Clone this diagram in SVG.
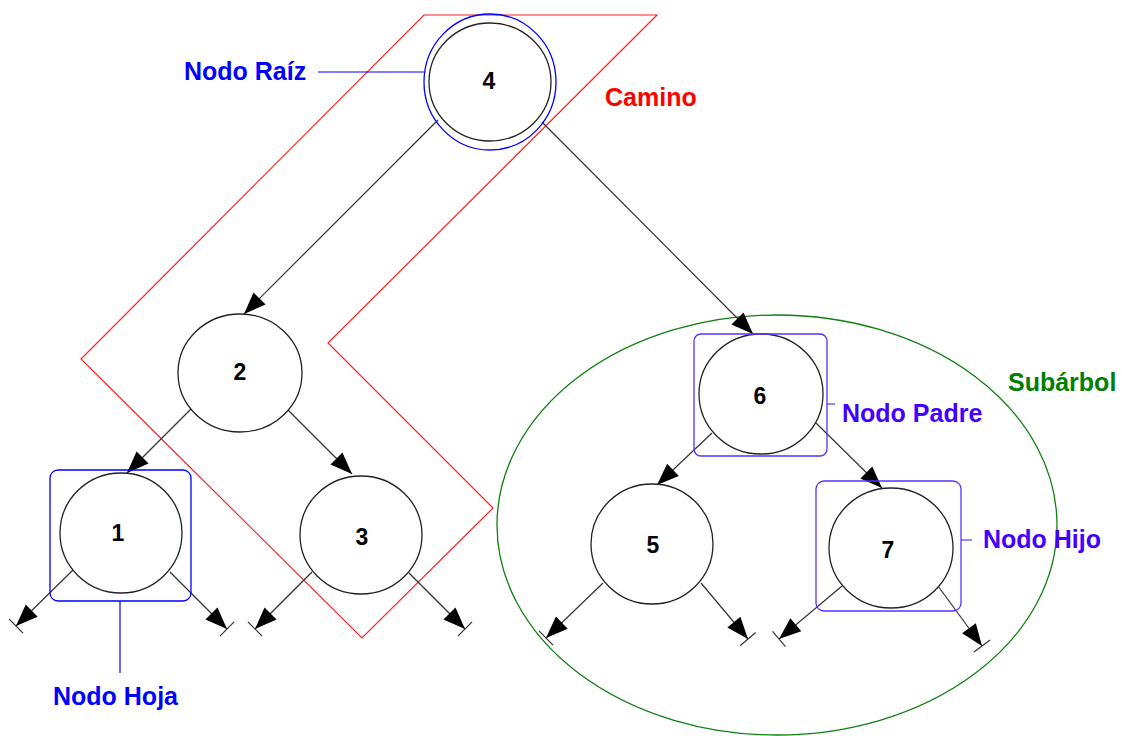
<svg xmlns="http://www.w3.org/2000/svg" width="1122" height="736" viewBox="0 0 1122 736">
<style>
.node{fill:#fff;stroke:#222;stroke-width:1.3}
.num{font-family:"Liberation Sans",Arial,sans-serif;font-weight:bold;font-size:23px;text-anchor:middle;fill:#000}
.lbl{font-family:"Liberation Sans",Arial,sans-serif;font-weight:bold;font-size:25px}
.edge{stroke:#333;stroke-width:1.2;fill:none;marker-end:url(#arr)}
.nil{stroke:#333;stroke-width:1.2;fill:none;marker-end:url(#nilarr)}
.blue{fill:#0000ff}
.violet{fill:#4400ff}
</style>
<defs>
<marker id="arr" markerUnits="userSpaceOnUse" markerWidth="30" markerHeight="30" viewBox="-25 -12 30 24" refX="0" refY="0" orient="auto">
<path d="M0,0 L-22,-8.5 L-22,8.5 Z" fill="#000"/>
</marker>
<marker id="nilarr" markerUnits="userSpaceOnUse" markerWidth="30" markerHeight="30" viewBox="-25 -12 30 24" refX="0" refY="0" orient="auto">
<path d="M0,0 L-22,-8.5 L-22,8.5 Z" fill="#000"/>
<path d="M0,-10 L0,10" stroke="#333" stroke-width="1.2"/>
</marker>
</defs>
<rect width="1122" height="736" fill="#fff"/>

<g id="subarbol">
<ellipse cx="777" cy="525" rx="280" ry="210" fill="none" stroke="#108010" stroke-width="1.3"/>
<text class="lbl" x="1008" y="391" fill="#008000">Subárbol</text>
</g>

<g id="camino">
<path d="M424,15 L657,15 L328,343 L493,508 L362,638 L81,359 Z" fill="none" stroke="#ff2020" stroke-width="1.2"/>
<text class="lbl" x="605" y="106" fill="#ff0000">Camino</text>
</g>

<g id="connectors">
<line class="edge" x1="438" y1="120" x2="244" y2="314"/>
<line class="edge" x1="542" y1="122" x2="753" y2="334"/>
<line class="edge" x1="191" y1="409" x2="127" y2="473"/>
<line class="edge" x1="288" y1="410" x2="352" y2="474"/>
<line class="edge" x1="712" y1="433" x2="657" y2="485"/>
<line class="edge" x1="816" y1="423" x2="882" y2="488"/>
<line class="nil" x1="73" y1="570" x2="16" y2="626"/>
<line class="nil" x1="170" y1="572" x2="227" y2="629"/>
<line class="nil" x1="312" y1="572" x2="255" y2="629"/>
<line class="nil" x1="409" y1="573" x2="465" y2="629"/>
<line class="nil" x1="603" y1="583" x2="546" y2="638"/>
<line class="nil" x1="701" y1="583" x2="748" y2="639"/>
<line class="nil" x1="842" y1="586" x2="779" y2="639"/>
<line class="nil" x1="938" y1="586" x2="982" y2="646"/>
</g>

<g id="node4">
<ellipse cx="490" cy="82" rx="66" ry="68" fill="none" stroke="#0000ff" stroke-width="1.3"/>
<ellipse class="node" cx="490" cy="82" rx="61" ry="59"/>
<text class="num" x="489" y="89">4</text>
</g>
<g id="label-raiz">
<line x1="318" y1="72" x2="424" y2="72" stroke="#0000ff" stroke-width="1.2"/>
<text class="lbl blue" x="184" y="80">Nodo Raíz</text>
</g>

<g id="node2">
<ellipse class="node" cx="240" cy="373" rx="62" ry="59"/>
<text class="num" x="240" y="380">2</text>
</g>

<g id="node1">
<ellipse class="node" cx="121" cy="533" rx="61" ry="60"/>
<text class="num" x="118" y="541">1</text>
<rect x="50" y="470" width="141" height="131" rx="8" fill="none" stroke="#0000ff" stroke-width="1.3"/>
</g>
<g id="label-hoja">
<line x1="120" y1="601" x2="120" y2="673" stroke="#0000ff" stroke-width="1.2"/>
<text class="lbl blue" x="53" y="705">Nodo Hoja</text>
</g>

<g id="node3">
<ellipse class="node" cx="361" cy="535" rx="61" ry="59"/>
<text class="num" x="362" y="545">3</text>
</g>

<g id="node6">
<ellipse class="node" cx="761" cy="394" rx="62" ry="60"/>
<text class="num" x="760" y="404">6</text>
<rect x="694" y="334" width="133" height="122" rx="7" fill="none" stroke="#5533ff" stroke-width="1.3"/>
</g>
<g id="label-padre">
<line x1="827" y1="404" x2="835" y2="404" stroke="#5533ff" stroke-width="1.2"/>
<text class="lbl violet" x="842" y="422">Nodo Padre</text>
</g>

<g id="node5">
<ellipse class="node" cx="652" cy="544" rx="61" ry="60"/>
<text class="num" x="653" y="553">5</text>
</g>

<g id="node7">
<ellipse class="node" cx="891" cy="548" rx="62" ry="60"/>
<text class="num" x="888" y="558">7</text>
<rect x="816" y="481" width="145" height="130" rx="8" fill="none" stroke="#5533ff" stroke-width="1.3"/>
</g>
<g id="label-hijo">
<line x1="961" y1="540" x2="972" y2="540" stroke="#5533ff" stroke-width="1.2"/>
<text class="lbl violet" x="983" y="548">Nodo Hijo</text>
</g>
</svg>
